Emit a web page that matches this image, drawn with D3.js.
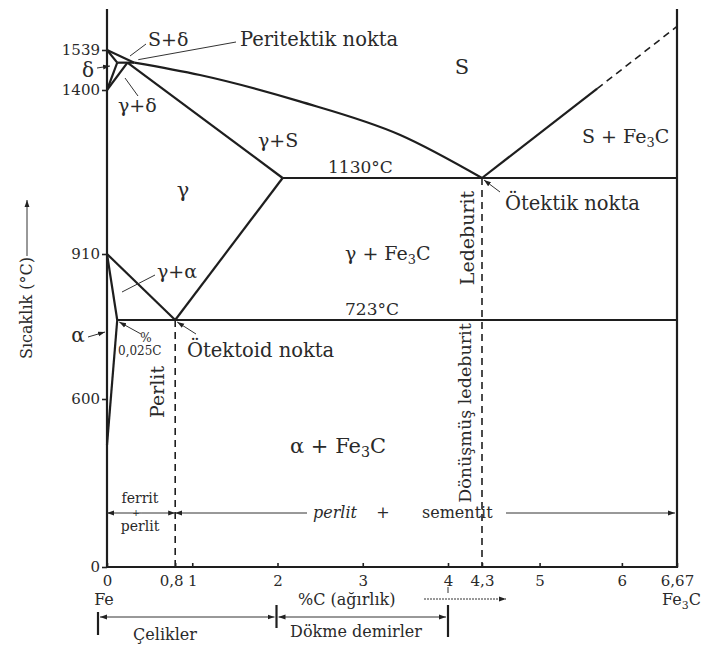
<!DOCTYPE html>
<meta charset="utf-8">
<html>
<head>
<style>
body { margin: 0; background: #fff; }
svg { font-family: "DejaVu Serif", "Liberation Serif", serif; }
.line { fill: none; stroke: #1e1e1e; stroke-width: 2.2px; }
.dash { fill: none; stroke: #1e1e1e; stroke-width: 1.6px; stroke-dasharray: 7,5; }
.thin { fill: none; stroke: #333; stroke-width: 1px; }
.lbl { fill: #2a2a2a; }
.axis path { display: none; }
.axis line { stroke: #222; stroke-width: 1.6px; }
.axis text { font-family: "DejaVu Serif", serif; font-size: 15px; fill: #2a2a2a; }
</style>
</head>
<body>
<svg width="705" height="646"></svg>
<script src="https://d3js.org/d3.v7.min.js"></script>
<script>

// tick values
var xTicks = [0, 0.8, 1, 2, 3, 4, 4.3, 5, 6, 6.67];
var xTickLabels = ["0", "0,8", "1", "2", "3", "4", "4,3", "5", "6", "6,67"];
var yTicks = [0, 600, 910, 1400, 1539];

// phase boundaries, [%C, °C]
var liquidus = [[0, 1539], [0.32, 1495], [1.09, 1452], [2.26, 1365], [3.44, 1262], [4.3, 1130]];
var liquidusFe3C = [[4.3, 1130], [5.7, 1405]];
var liquidusFe3CDash = [[5.7, 1405], [6.67, 1620]];
var solidusDelta = [[0, 1539], [0.12, 1495]];
var peritecticLine = [[0.12, 1495], [0.32, 1495]];
var deltaBoundary = [[0.12, 1495], [0, 1400]];
var gammaDeltaBoundary = [[0.24, 1495], [0, 1400]];
var solidusGamma = [[0.24, 1495], [2.06, 1130]];
var acmLine = [[0.8, 723], [2.06, 1130]];
var a3Line = [[0, 910], [0.8, 723]];
var alphaBoundary = [[0, 910], [0.12, 723]];
var alphaSolvus = [[0.12, 723], [0, 435]];
var eutecticLine = [[2.06, 1130], [6.67, 1130]];
var eutectoidLine = [[0.12, 723], [6.67, 723]];
var eutectoidDash = [[0.8, 723], [0.8, 0]];
var eutecticDash = [[4.3, 1130], [4.3, 0]];
var frame = [[0, 1680], [0, 0], [6.67, 0], [6.67, 1680]];

var svg = d3.select("svg");

// the diagram is schematic, so both scales are piecewise
var x = d3.scaleLinear().domain([0, 4, 4.3, 6.67]).range([107, 448, 482, 677]);
var y = d3.scaleLinear()
    .domain([0, 600, 723, 910, 1130, 1400, 1539, 1680])
    .range([567, 399, 320, 254, 178, 90, 50, 9]);

var line = d3.line()
    .x(function (d) { return x(d[0]); })
    .y(function (d) { return y(d[1]); });

var curve = d3.line()
    .x(function (d) { return x(d[0]); })
    .y(function (d) { return y(d[1]); })
    .curve(d3.curveMonotoneX);

var defs = svg.append("defs");
defs.append("marker")
    .attr("id", "arr")
    .attr("viewBox", "0 0 10 10")
    .attr("refX", 10).attr("refY", 5)
    .attr("markerWidth", 7).attr("markerHeight", 7)
    .attr("orient", "auto-start-reverse")
    .append("path")
    .attr("d", "M0,1.5L10,5L0,8.5z")
    .attr("fill", "#222");

var g = svg.append("g");

// frame
g.append("path").datum(frame).attr("class", "line").attr("d", line);

// solid phase lines
[liquidusFe3C, solidusDelta, peritecticLine, deltaBoundary, gammaDeltaBoundary,
 solidusGamma, acmLine, a3Line, alphaBoundary, alphaSolvus, eutecticLine, eutectoidLine]
  .forEach(function (d) {
    g.append("path").datum(d).attr("class", "line").attr("d", line);
  });
g.append("path").datum(liquidus.slice(0, 2)).attr("class", "line").attr("d", line);
g.append("path").datum(liquidus.slice(1)).attr("class", "line").attr("d", curve);

// dashed lines
[liquidusFe3CDash, eutectoidDash, eutecticDash].forEach(function (d) {
  g.append("path").datum(d).attr("class", "dash").attr("d", line);
});

// axes
var xAxis = d3.axisBottom(x)
    .tickValues(xTicks)
    .tickSize(-4)
    .tickPadding(8)
    .tickFormat(function (d, i) { return xTickLabels[i]; });

svg.append("g")
    .attr("class", "axis")
    .attr("transform", "translate(0," + y(0) + ")")
    .call(xAxis)
    .selectAll("text")
    .attr("dx", function (d) { return d === 0.8 ? -4 : 0; });

var yAxis = d3.axisLeft(y)
    .tickValues(yTicks)
    .tickSize(5)
    .tickPadding(2)
    .tickFormat(d3.format("d"));

svg.append("g")
    .attr("class", "axis")
    .attr("transform", "translate(" + x(0) + ",0)")
    .call(yAxis);

// ---- text helpers
function label(str, px, py, size, anchor) {
  return svg.append("text")
      .attr("class", "lbl")
      .attr("x", px).attr("y", py)
      .attr("font-size", size)
      .attr("text-anchor", anchor || "start")
      .text(str);
}

function fe3c(prefix, px, py, size) {
  var t = svg.append("text")
      .attr("class", "lbl")
      .attr("x", px).attr("y", py)
      .attr("font-size", size);
  t.append("tspan").text(prefix + "Fe");
  t.append("tspan").attr("dy", 4).attr("font-size", size * 0.68).text("3");
  t.append("tspan").attr("dy", -4).text("C");
  return t;
}

function vlabel(str, px, py, size) {
  return svg.append("text")
      .attr("class", "lbl")
      .attr("transform", "translate(" + px + "," + py + ") rotate(-90)")
      .attr("font-size", size)
      .attr("text-anchor", "middle")
      .text(str);
}

function leader(x1, y1, x2, y2, arrow) {
  var l = svg.append("line")
      .attr("class", "thin")
      .attr("x1", x1).attr("y1", y1)
      .attr("x2", x2).attr("y2", y2);
  if (arrow) l.attr("marker-end", "url(#arr)");
  return l;
}

// ---- top (peritectic) area
label("δ", 88, 77, 20, "middle");
leader(97, 68, 110, 66, true);
label("S+δ", 148, 46, 19);
leader(146, 44, 130, 56, false);
label("Peritektik nokta", 240, 46, 19.5);
leader(236, 42, x(0.32) + 4, y(1495) - 3, false);
label("γ+δ", 118, 112, 19);
leader(138, 96, 125, 78, false);

// ---- region labels
label("S", 462, 74, 21, "middle");
label("γ+S", 258, 147, 19);
label("1130°C", 328, 173, 17);
fe3c("S + ", 582, 143, 19);
label("Ötektik nokta", 505, 210, 19.5);
leader(500, 192, x(4.3) + 2, y(1130) + 2, true);
label("γ", 183, 197, 21, "middle");
vlabel("Ledeburit", 474, 238, 19);
fe3c("γ + ", 345, 260, 19);

label("γ+α", 157, 278, 19);
leader(155, 275, 122, 292, false);
label("723°C", 345, 315, 17);
label("α", 78, 342, 20, "middle");
leader(88, 337, 105, 332, true);
label("%", 146, 342, 12, "middle");
label("0,025C", 118, 355, 12);
leader(141, 334, x(0.12) + 2, y(723) + 2, true);
label("Ötektoid nokta", 187, 357, 19.5);
leader(196, 334, x(0.8) + 2, y(723) + 2, true);

vlabel("Perlit", 164, 392, 19);
fe3c("α + ", 290, 453, 21);
vlabel("Dönüşmüş ledeburit", 471, 413, 17.5);

// ---- structure bands
label("ferrit", 140, 503, 14, "middle");
label("+", 136, 516, 9, "middle");
label("perlit", 140, 531, 14, "middle");
leader(x(0.4), 513, x(0), 513, true);
leader(x(0.4), 513, x(0.8), 513, true);

leader(307, 513, x(0.8), 513, true);
label("perlit", 313, 518, 16).attr("font-style", "italic");
label("+", 383, 518, 16, "middle");
label("sementit", 422, 518, 16);
leader(506, 513, x(6.67) - 2, 513, true);

// ---- y axis title
vlabel("Sıcaklık (°C)", 32, 308, 16);
leader(27, 256, 27, 200, true);

// ---- bottom labels
label("Fe", 104, 605, 16, "middle");
fe3c("", 662, 605, 16);
label("%C (ağırlık)", 298, 605, 16);
leader(424, 599, 506, 599, true).style("stroke-dasharray", "2,1");
leader(x(4), 587, x(4), 593, false);

// steel / cast iron bracket
leader(98, 612, 98, 635, false).attr("class", "line");
leader(x(2) - 1, 605, x(2) - 1, 628, false).attr("class", "line");
leader(x(4), 605, x(4), 637, false).attr("class", "line");
leader(180, 617, 100, 617, true);
leader(180, 617, x(2) - 3, 617, true);
leader(360, 617, x(2) + 1, 617, true);
leader(360, 617, x(4) - 2, 617, true);
label("Çelikler", 165, 640, 16, "middle");
label("Dökme demirler", 356, 637, 16, "middle");

</script>
</body>
</html>
